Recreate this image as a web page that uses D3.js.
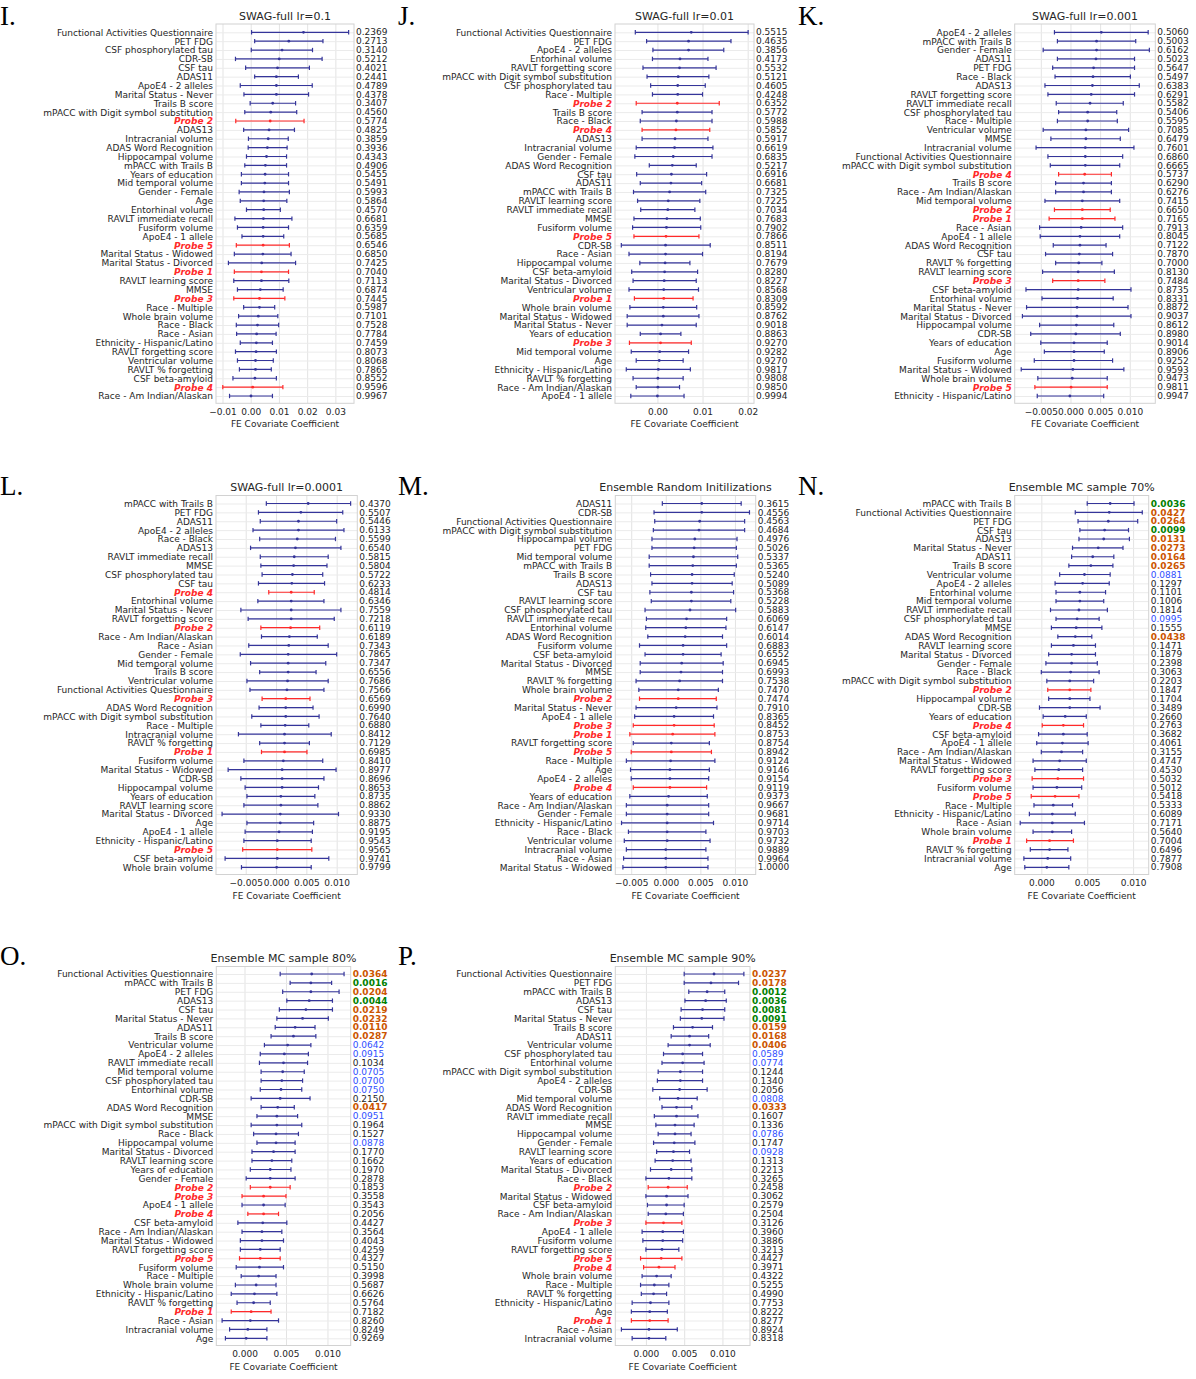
<!DOCTYPE html>
<html lang="en">

<head>
  <meta charset="UTF-8">
  <title>FE covariate coefficients</title>
  <script src="https://d3js.org/d3.v7.min.js"></script>
  <style>
    body {
      margin: 0;
      background: #fff;
    }

    text {
      font-family: "DejaVu Sans", sans-serif;
    }
  </style>
</head>

<body>
  <div class="chartContainer"></div>

  <script>
    // ---- data: one set of arrays per panel (label, mean, CI low, CI high, p-value) ----
    const labelsI = ["Functional Activities Questionnaire", "PET FDG", "CSF phosphorylated tau", "CDR-SB", "CSF tau", "ADAS11", "ApoE4 - 2 alleles", "Marital Status - Never", "Trails B score", "mPACC with Digit symbol substitution", "Probe 2", "ADAS13", "Intracranial volume", "ADAS Word Recognition", "Hippocampal volume", "mPACC with Trails B", "Years of education", "Mid temporal volume", "Gender - Female", "Age", "Entorhinal volume", "RAVLT immediate recall", "Fusiform volume", "ApoE4 - 1 allele", "Probe 5", "Marital Status - Widowed", "Marital Status - Divorced", "Probe 1", "RAVLT learning score", "MMSE", "Probe 3", "Race - Multiple", "Whole brain volume", "Race - Black", "Race - Asian", "Ethnicity - Hispanic/Latino", "RAVLT forgetting score", "Ventricular volume", "RAVLT % forgetting", "CSF beta-amyloid", "Probe 4", "Race - Am Indian/Alaskan"]
    const meanI = [0.0187, 0.0135, 0.0111, 0.0101, 0.0095, 0.0091, 0.0091, 0.0091, 0.0078, 0.0071, 0.0069, 0.0065, 0.0062, 0.0059, 0.0056, 0.0052, 0.0051, 0.0050, 0.0047, 0.0046, 0.0046, 0.0045, 0.0044, 0.0044, 0.0044, 0.0043, 0.0039, 0.0038, 0.0038, 0.0034, 0.0031, 0.0031, 0.0027, 0.0024, 0.0021, 0.0020, 0.0019, 0.0017, 0.0017, 0.0015, 0.0007, 0.0001]
    const loI = [0.0003, 0.0014, 0.0002, -0.0054, -0.0018, 0.0014, -0.0037, -0.0024, -0.0002, -0.0021, -0.0053, -0.0025, -0.0008, -0.0009, -0.0015, -0.0021, -0.0033, -0.0033, -0.0041, -0.0037, -0.0015, -0.0056, -0.0047, -0.0031, -0.0051, -0.0058, -0.0079, -0.0058, -0.0060, -0.0047, -0.0060, -0.0025, -0.0043, -0.0051, -0.0050, -0.0037, -0.0054, -0.0047, -0.0040, -0.0063, -0.0099, -0.0075]
    const hiI = [0.0347, 0.0256, 0.0219, 0.0253, 0.0208, 0.0169, 0.0218, 0.0205, 0.0159, 0.0163, 0.0189, 0.0155, 0.0133, 0.0129, 0.0127, 0.0127, 0.0134, 0.0134, 0.0137, 0.0128, 0.0105, 0.0146, 0.0134, 0.0117, 0.0137, 0.0143, 0.0159, 0.0134, 0.0135, 0.0115, 0.0121, 0.0085, 0.0096, 0.0099, 0.0090, 0.0077, 0.0091, 0.0080, 0.0073, 0.0091, 0.0114, 0.0077]
    const pI = [0.2369, 0.2713, 0.3140, 0.5212, 0.4021, 0.2441, 0.4789, 0.4378, 0.3407, 0.4560, 0.5774, 0.4825, 0.3859, 0.3936, 0.4343, 0.4906, 0.5455, 0.5491, 0.5993, 0.5864, 0.4570, 0.6681, 0.6359, 0.5685, 0.6546, 0.6850, 0.7425, 0.7040, 0.7113, 0.6874, 0.7445, 0.5987, 0.7101, 0.7528, 0.7784, 0.7459, 0.8073, 0.8068, 0.7865, 0.8552, 0.9596, 0.9967]

    const labelsJ = ["Functional Activities Questionnaire", "PET FDG", "ApoE4 - 2 alleles", "Entorhinal volume", "RAVLT forgetting score", "mPACC with Digit symbol substitution", "CSF phosphorylated tau", "Race - Multiple", "Probe 2", "Trails B score", "Race - Black", "Probe 4", "ADAS13", "Intracranial volume", "Gender - Female", "ADAS Word Recognition", "CSF tau", "ADAS11", "mPACC with Trails B", "RAVLT learning score", "RAVLT immediate recall", "MMSE", "Fusiform volume", "Probe 5", "CDR-SB", "Race - Asian", "Hippocampal volume", "CSF beta-amyloid", "Marital Status - Divorced", "Ventricular volume", "Probe 1", "Whole brain volume", "Marital Status - Widowed", "Marital Status - Never", "Years of education", "Probe 3", "Mid temporal volume", "Age", "Ethnicity - Hispanic/Latino", "RAVLT % forgetting", "Race - Am Indian/Alaskan", "ApoE4 - 1 allele"]
    const meanJ = [0.0075, 0.0069, 0.0069, 0.0050, 0.0049, 0.0046, 0.0045, 0.0045, 0.0044, 0.0044, 0.0042, 0.0041, 0.0039, 0.0038, 0.0035, 0.0033, 0.0031, 0.0030, 0.0027, 0.0024, 0.0023, 0.0021, 0.0020, 0.0019, 0.0018, 0.0018, 0.0017, 0.0016, 0.0015, 0.0014, 0.0014, 0.0013, 0.0013, 0.0010, 0.0007, 0.0007, 0.0005, 0.0004, 0.0002, 0.0001, 0.0001, 0.0000]
    const loJ = [-0.0049, -0.0024, -0.0010, -0.0011, -0.0032, -0.0023, -0.0015, -0.0011, -0.0047, -0.0034, -0.0038, -0.0034, -0.0034, -0.0047, -0.0050, -0.0018, -0.0046, -0.0038, -0.0053, -0.0044, -0.0037, -0.0052, -0.0055, -0.0052, -0.0080, -0.0063, -0.0039, -0.0057, -0.0054, -0.0063, -0.0051, -0.0061, -0.0067, -0.0067, -0.0038, -0.0062, -0.0058, -0.0047, -0.0069, -0.0054, -0.0047, -0.0059]
    const hiJ = [0.0201, 0.0163, 0.0147, 0.0112, 0.0130, 0.0114, 0.0106, 0.0100, 0.0137, 0.0121, 0.0121, 0.0116, 0.0112, 0.0123, 0.0121, 0.0086, 0.0109, 0.0098, 0.0107, 0.0094, 0.0083, 0.0095, 0.0096, 0.0092, 0.0117, 0.0100, 0.0072, 0.0089, 0.0086, 0.0091, 0.0079, 0.0087, 0.0092, 0.0086, 0.0052, 0.0075, 0.0069, 0.0057, 0.0073, 0.0057, 0.0049, 0.0059]
    const pJ = [0.5515, 0.4635, 0.3856, 0.4173, 0.5532, 0.5121, 0.4605, 0.4248, 0.6352, 0.5772, 0.5988, 0.5852, 0.5917, 0.6619, 0.6835, 0.5217, 0.6916, 0.6681, 0.7325, 0.7225, 0.7034, 0.7683, 0.7902, 0.7866, 0.8511, 0.8194, 0.7679, 0.8280, 0.8227, 0.8568, 0.8309, 0.8592, 0.8762, 0.9018, 0.8863, 0.9270, 0.9282, 0.9270, 0.9817, 0.9808, 0.9850, 0.9994]

    const labelsK = ["ApoE4 - 2 alleles", "mPACC with Trails B", "Gender - Female", "ADAS11", "PET FDG", "Race - Black", "ADAS13", "RAVLT forgetting score", "RAVLT immediate recall", "CSF phosphorylated tau", "Race - Multiple", "Ventricular volume", "MMSE", "Intracranial volume", "Functional Activities Questionnaire", "mPACC with Digit symbol substitution", "Probe 4", "Trails B score", "Race - Am Indian/Alaskan", "Mid temporal volume", "Probe 2", "Probe 1", "Race - Asian", "ApoE4 - 1 allele", "ADAS Word Recognition", "CSF tau", "RAVLT % forgetting", "RAVLT learning score", "Probe 3", "CSF beta-amyloid", "Entorhinal volume", "Marital Status - Never", "Marital Status - Divorced", "Hippocampal volume", "CDR-SB", "Years of education", "Age", "Fusiform volume", "Marital Status - Widowed", "Whole brain volume", "Probe 5", "Ethnicity - Hispanic/Latino"]
    const meanK = [0.0052, 0.0044, 0.0044, 0.0043, 0.0039, 0.0038, 0.0037, 0.0035, 0.0033, 0.0029, 0.0029, 0.0026, 0.0026, 0.0025, 0.0025, 0.0025, 0.0024, 0.0022, 0.0022, 0.0020, 0.0020, 0.0020, 0.0018, 0.0016, 0.0016, 0.0015, 0.0014, 0.0013, 0.0013, 0.0013, 0.0012, 0.0011, 0.0011, 0.0010, 0.0009, 0.0006, 0.0006, 0.0006, 0.0004, 0.0003, 0.0001, -0.0001]
    const loK = [-0.0027, -0.0022, -0.0046, -0.0022, -0.0030, -0.0026, -0.0043, -0.0038, -0.0024, -0.0020, -0.0022, -0.0046, -0.0033, -0.0058, -0.0038, -0.0034, -0.0020, -0.0025, -0.0025, -0.0043, -0.0027, -0.0036, -0.0052, -0.0051, -0.0029, -0.0042, -0.0025, -0.0047, -0.0030, -0.0075, -0.0048, -0.0074, -0.0081, -0.0052, -0.0067, -0.0050, -0.0044, -0.0061, -0.0083, -0.0055, -0.0060, -0.0056]
    const hiK = [0.0131, 0.0110, 0.0133, 0.0108, 0.0108, 0.0101, 0.0116, 0.0108, 0.0089, 0.0078, 0.0079, 0.0098, 0.0084, 0.0107, 0.0088, 0.0083, 0.0069, 0.0069, 0.0069, 0.0083, 0.0067, 0.0075, 0.0088, 0.0083, 0.0060, 0.0071, 0.0053, 0.0074, 0.0058, 0.0102, 0.0072, 0.0097, 0.0102, 0.0073, 0.0084, 0.0062, 0.0057, 0.0071, 0.0090, 0.0062, 0.0062, 0.0056]
    const pK = [0.5060, 0.5003, 0.6162, 0.5023, 0.5647, 0.5497, 0.6383, 0.6291, 0.5582, 0.5406, 0.5595, 0.7085, 0.6479, 0.7601, 0.6860, 0.6665, 0.5737, 0.6290, 0.6276, 0.7415, 0.6650, 0.7165, 0.7913, 0.8045, 0.7122, 0.7870, 0.7000, 0.8130, 0.7484, 0.8735, 0.8331, 0.8872, 0.9037, 0.8612, 0.8980, 0.9014, 0.8906, 0.9252, 0.9593, 0.9473, 0.9811, 0.9947]

    const labelsL = ["mPACC with Trails B", "PET FDG", "ADAS11", "ApoE4 - 2 alleles", "Race - Black", "ADAS13", "RAVLT immediate recall", "MMSE", "CSF phosphorylated tau", "CSF tau", "Probe 4", "Entorhinal volume", "Marital Status - Never", "RAVLT forgetting score", "Probe 2", "Race - Am Indian/Alaskan", "Race - Asian", "Gender - Female", "Mid temporal volume", "Trails B score", "Ventricular volume", "Functional Activities Questionnaire", "Probe 3", "ADAS Word Recognition", "mPACC with Digit symbol substitution", "Race - Multiple", "Intracranial volume", "RAVLT % forgetting", "Probe 1", "Fusiform volume", "Marital Status - Widowed", "CDR-SB", "Hippocampal volume", "Years of education", "RAVLT learning score", "Marital Status - Divorced", "Age", "ApoE4 - 1 allele", "Ethnicity - Hispanic/Latino", "Probe 5", "CSF beta-amyloid", "Whole brain volume"]
    const meanL = [0.0053, 0.0041, 0.0037, 0.0037, 0.0035, 0.0032, 0.0030, 0.0029, 0.0027, 0.0026, 0.0025, 0.0025, 0.0025, 0.0025, 0.0024, 0.0022, 0.0021, 0.0020, 0.0020, 0.0020, 0.0019, 0.0018, 0.0016, 0.0016, 0.0016, 0.0015, 0.0014, 0.0014, 0.0014, 0.0012, 0.0010, 0.0010, 0.0010, 0.0008, 0.0008, 0.0007, 0.0007, 0.0005, 0.0002, 0.0002, 0.0002, 0.0001]
    const loL = [-0.0016, -0.0029, -0.0026, -0.0038, -0.0027, -0.0042, -0.0026, -0.0025, -0.0023, -0.0029, -0.0012, -0.0030, -0.0058, -0.0046, -0.0025, -0.0024, -0.0045, -0.0059, -0.0042, -0.0027, -0.0048, -0.0043, -0.0023, -0.0028, -0.0040, -0.0025, -0.0062, -0.0027, -0.0024, -0.0053, -0.0079, -0.0058, -0.0051, -0.0048, -0.0053, -0.0089, -0.0048, -0.0051, -0.0053, -0.0055, -0.0084, -0.0057]
    const hiL = [0.0123, 0.0110, 0.0100, 0.0112, 0.0098, 0.0107, 0.0086, 0.0084, 0.0077, 0.0080, 0.0063, 0.0079, 0.0107, 0.0096, 0.0072, 0.0068, 0.0086, 0.0100, 0.0082, 0.0066, 0.0086, 0.0079, 0.0056, 0.0061, 0.0071, 0.0054, 0.0091, 0.0055, 0.0051, 0.0077, 0.0099, 0.0079, 0.0070, 0.0064, 0.0069, 0.0103, 0.0062, 0.0060, 0.0058, 0.0059, 0.0087, 0.0058]
    const pL = [0.4370, 0.5507, 0.5446, 0.6133, 0.5599, 0.6540, 0.5815, 0.5804, 0.5722, 0.6233, 0.4814, 0.6346, 0.7559, 0.7218, 0.6119, 0.6189, 0.7343, 0.7865, 0.7347, 0.6556, 0.7686, 0.7566, 0.6569, 0.6990, 0.7640, 0.6880, 0.8412, 0.7129, 0.6985, 0.8410, 0.8977, 0.8696, 0.8653, 0.8735, 0.8862, 0.9330, 0.8875, 0.9195, 0.9543, 0.9565, 0.9741, 0.9799]

    const labelsM = ["ADAS11", "CDR-SB", "Functional Activities Questionnaire", "mPACC with Digit symbol substitution", "Hippocampal volume", "PET FDG", "Mid temporal volume", "mPACC with Trails B", "Trails B score", "ADAS13", "CSF tau", "RAVLT learning score", "CSF phosphorylated tau", "RAVLT immediate recall", "Entorhinal volume", "ADAS Word Recognition", "Fusiform volume", "CSF beta-amyloid", "Marital Status - Divorced", "MMSE", "RAVLT % forgetting", "Whole brain volume", "Probe 2", "Marital Status - Never", "ApoE4 - 1 allele", "Probe 3", "Probe 1", "RAVLT forgetting score", "Probe 5", "Race - Multiple", "Age", "ApoE4 - 2 alleles", "Probe 4", "Years of education", "Race - Am Indian/Alaskan", "Gender - Female", "Ethnicity - Hispanic/Latino", "Race - Black", "Ventricular volume", "Intracranial volume", "Race - Asian", "Marital Status - Widowed"]
    const meanM = [0.0052, 0.0052, 0.0049, 0.0048, 0.0042, 0.0041, 0.0040, 0.0039, 0.0038, 0.0038, 0.0037, 0.0037, 0.0035, 0.0030, 0.0029, 0.0028, 0.0025, 0.0025, 0.0023, 0.0022, 0.0020, 0.0018, 0.0018, 0.0015, 0.0012, 0.0012, 0.0010, 0.0008, 0.0008, 0.0007, 0.0006, 0.0006, 0.0006, 0.0004, 0.0002, 0.0002, 0.0002, 0.0002, 0.0002, 0.0000, 0.0000, 0.0000]
    const loM = [-0.0005, -0.0017, -0.0016, -0.0018, -0.0020, -0.0020, -0.0024, -0.0024, -0.0022, -0.0020, -0.0023, -0.0021, -0.0030, -0.0028, -0.0029, -0.0026, -0.0038, -0.0030, -0.0037, -0.0037, -0.0043, -0.0039, -0.0038, -0.0043, -0.0045, -0.0047, -0.0052, -0.0047, -0.0050, -0.0057, -0.0051, -0.0050, -0.0047, -0.0052, -0.0057, -0.0057, -0.0064, -0.0054, -0.0060, -0.0057, -0.0061, -0.0062]
    const hiM = [0.0109, 0.0121, 0.0114, 0.0114, 0.0103, 0.0102, 0.0104, 0.0102, 0.0099, 0.0096, 0.0098, 0.0094, 0.0101, 0.0088, 0.0087, 0.0082, 0.0088, 0.0080, 0.0083, 0.0082, 0.0082, 0.0076, 0.0073, 0.0074, 0.0069, 0.0070, 0.0071, 0.0063, 0.0066, 0.0071, 0.0063, 0.0062, 0.0059, 0.0060, 0.0062, 0.0062, 0.0069, 0.0058, 0.0064, 0.0058, 0.0061, 0.0061]
    const pM = [0.3615, 0.4556, 0.4563, 0.4684, 0.4976, 0.5026, 0.5337, 0.5365, 0.5240, 0.5089, 0.5368, 0.5228, 0.5883, 0.6069, 0.6147, 0.6014, 0.6883, 0.6552, 0.6945, 0.6993, 0.7538, 0.7470, 0.7474, 0.7910, 0.8365, 0.8452, 0.8753, 0.8754, 0.8942, 0.9124, 0.9146, 0.9154, 0.9119, 0.9373, 0.9667, 0.9681, 0.9714, 0.9703, 0.9732, 0.9889, 0.9964, 1.0000]

    const labelsN = ["mPACC with Trails B", "Functional Activities Questionnaire", "PET FDG", "CSF tau", "ADAS13", "Marital Status - Never", "ADAS11", "Trails B score", "Ventricular volume", "ApoE4 - 2 alleles", "Entorhinal volume", "Mid temporal volume", "RAVLT immediate recall", "CSF phosphorylated tau", "MMSE", "ADAS Word Recognition", "RAVLT learning score", "Marital Status - Divorced", "Gender - Female", "Race - Black", "mPACC with Digit symbol substitution", "Probe 2", "Hippocampal volume", "CDR-SB", "Years of education", "Probe 4", "CSF beta-amyloid", "ApoE4 - 1 allele", "Race - Am Indian/Alaskan", "Marital Status - Widowed", "RAVLT forgetting score", "Probe 3", "Fusiform volume", "Probe 5", "Race - Multiple", "Ethnicity - Hispanic/Latino", "Race - Asian", "Whole brain volume", "Probe 1", "RAVLT % forgetting", "Intracranial volume", "Age"]
    const meanN = [0.0075, 0.0074, 0.0073, 0.0069, 0.0068, 0.0062, 0.0056, 0.0054, 0.0047, 0.0045, 0.0042, 0.0042, 0.0041, 0.0039, 0.0038, 0.0037, 0.0035, 0.0033, 0.0033, 0.0032, 0.0031, 0.0031, 0.0031, 0.0031, 0.0026, 0.0024, 0.0024, 0.0023, 0.0022, 0.0020, 0.0019, 0.0018, 0.0017, 0.0015, 0.0013, 0.0012, 0.0012, 0.0012, 0.0009, 0.0009, 0.0007, 0.0006]
    const loN = [0.0050, 0.0037, 0.0040, 0.0042, 0.0041, 0.0034, 0.0033, 0.0030, 0.0020, 0.0015, 0.0016, 0.0016, 0.0010, 0.0016, 0.0011, 0.0018, 0.0011, 0.0008, 0.0005, 0.0000, 0.0006, 0.0007, 0.0008, -0.0002, 0.0002, 0.0001, -0.0003, -0.0005, 0.0000, -0.0009, -0.0007, -0.0010, -0.0009, -0.0011, -0.0008, -0.0013, -0.0023, -0.0009, -0.0016, -0.0012, -0.0019, -0.0018]
    const hiN = [0.0101, 0.0110, 0.0105, 0.0095, 0.0096, 0.0089, 0.0079, 0.0078, 0.0075, 0.0074, 0.0070, 0.0068, 0.0072, 0.0063, 0.0066, 0.0055, 0.0059, 0.0059, 0.0061, 0.0063, 0.0057, 0.0054, 0.0053, 0.0064, 0.0049, 0.0046, 0.0050, 0.0051, 0.0045, 0.0049, 0.0045, 0.0046, 0.0044, 0.0041, 0.0034, 0.0037, 0.0047, 0.0033, 0.0035, 0.0029, 0.0032, 0.0030]
    const pN = [0.0036, 0.0427, 0.0264, 0.0099, 0.0131, 0.0273, 0.0164, 0.0265, 0.0881, 0.1297, 0.1101, 0.1006, 0.1814, 0.0995, 0.1555, 0.0438, 0.1471, 0.1879, 0.2398, 0.3063, 0.2203, 0.1847, 0.1704, 0.3489, 0.2660, 0.2763, 0.3682, 0.4061, 0.3155, 0.4747, 0.4530, 0.5032, 0.5012, 0.5418, 0.5333, 0.6089, 0.7171, 0.5640, 0.7004, 0.6496, 0.7877, 0.7908]

    const labelsO = ["Functional Activities Questionnaire", "mPACC with Trails B", "PET FDG", "ADAS13", "CSF tau", "Marital Status - Never", "ADAS11", "Trails B score", "Ventricular volume", "ApoE4 - 2 alleles", "RAVLT immediate recall", "Mid temporal volume", "CSF phosphorylated tau", "Entorhinal volume", "CDR-SB", "ADAS Word Recognition", "MMSE", "mPACC with Digit symbol substitution", "Race - Black", "Hippocampal volume", "Marital Status - Divorced", "RAVLT learning score", "Years of education", "Gender - Female", "Probe 2", "Probe 3", "ApoE4 - 1 allele", "Probe 4", "CSF beta-amyloid", "Race - Am Indian/Alaskan", "Marital Status - Widowed", "RAVLT forgetting score", "Probe 5", "Fusiform volume", "Race - Multiple", "Whole brain volume", "Ethnicity - Hispanic/Latino", "RAVLT % forgetting", "Probe 1", "Race - Asian", "Intracranial volume", "Age"]
    const meanO = [0.0081, 0.0080, 0.0080, 0.0078, 0.0074, 0.0070, 0.0061, 0.0059, 0.0052, 0.0048, 0.0047, 0.0046, 0.0045, 0.0044, 0.0043, 0.0040, 0.0039, 0.0039, 0.0038, 0.0038, 0.0035, 0.0033, 0.0031, 0.0031, 0.0031, 0.0023, 0.0023, 0.0023, 0.0022, 0.0021, 0.0021, 0.0019, 0.0019, 0.0018, 0.0017, 0.0014, 0.0012, 0.0011, 0.0008, 0.0007, 0.0004, 0.0002]
    const loO = [0.0043, 0.0055, 0.0046, 0.0051, 0.0042, 0.0039, 0.0037, 0.0032, 0.0024, 0.0019, 0.0018, 0.0020, 0.0020, 0.0019, 0.0008, 0.0020, 0.0015, 0.0008, 0.0011, 0.0015, 0.0009, 0.0009, 0.0007, 0.0002, 0.0007, -0.0003, -0.0003, 0.0004, -0.0008, -0.0003, -0.0005, -0.0005, -0.0006, -0.0010, -0.0004, -0.0011, -0.0016, -0.0009, -0.0016, -0.0027, -0.0018, -0.0023]
    const hiO = [0.0120, 0.0105, 0.0114, 0.0106, 0.0106, 0.0101, 0.0085, 0.0086, 0.0080, 0.0077, 0.0076, 0.0072, 0.0070, 0.0069, 0.0079, 0.0060, 0.0064, 0.0069, 0.0065, 0.0061, 0.0061, 0.0057, 0.0056, 0.0061, 0.0055, 0.0050, 0.0049, 0.0041, 0.0051, 0.0045, 0.0047, 0.0043, 0.0043, 0.0047, 0.0038, 0.0038, 0.0039, 0.0031, 0.0032, 0.0041, 0.0027, 0.0027]
    const pO = [0.0364, 0.0016, 0.0204, 0.0044, 0.0219, 0.0232, 0.0110, 0.0287, 0.0642, 0.0915, 0.1034, 0.0705, 0.0700, 0.0750, 0.2150, 0.0417, 0.0951, 0.1964, 0.1527, 0.0878, 0.1770, 0.1662, 0.1970, 0.2878, 0.1853, 0.3558, 0.3543, 0.2056, 0.4427, 0.3564, 0.4043, 0.4259, 0.4327, 0.5150, 0.3998, 0.5687, 0.6626, 0.5764, 0.7182, 0.8260, 0.8249, 0.9269]

    const labelsP = ["Functional Activities Questionnaire", "PET FDG", "mPACC with Trails B", "ADAS13", "CSF tau", "Marital Status - Never", "Trails B score", "ADAS11", "Ventricular volume", "CSF phosphorylated tau", "Entorhinal volume", "mPACC with Digit symbol substitution", "ApoE4 - 2 alleles", "CDR-SB", "Mid temporal volume", "ADAS Word Recognition", "RAVLT immediate recall", "MMSE", "Hippocampal volume", "Gender - Female", "RAVLT learning score", "Years of education", "Marital Status - Divorced", "Race - Black", "Probe 2", "Marital Status - Widowed", "CSF beta-amyloid", "Race - Am Indian/Alaskan", "Probe 3", "ApoE4 - 1 allele", "Fusiform volume", "RAVLT forgetting score", "Probe 5", "Probe 4", "Whole brain volume", "Race - Multiple", "RAVLT % forgetting", "Ethnicity - Hispanic/Latino", "Age", "Probe 1", "Race - Asian", "Intracranial volume"]
    const meanP = [0.0089, 0.0085, 0.0080, 0.0078, 0.0074, 0.0073, 0.0061, 0.0057, 0.0057, 0.0048, 0.0048, 0.0045, 0.0045, 0.0044, 0.0042, 0.0040, 0.0040, 0.0038, 0.0038, 0.0037, 0.0036, 0.0035, 0.0033, 0.0030, 0.0029, 0.0027, 0.0027, 0.0026, 0.0023, 0.0022, 0.0022, 0.0021, 0.0020, 0.0017, 0.0014, 0.0011, 0.0010, 0.0006, 0.0005, 0.0005, 0.0004, 0.0004]
    const loP = [0.0050, 0.0050, 0.0056, 0.0051, 0.0046, 0.0045, 0.0036, 0.0033, 0.0029, 0.0023, 0.0021, 0.0016, 0.0015, 0.0009, 0.0018, 0.0021, 0.0011, 0.0013, 0.0016, 0.0010, 0.0014, 0.0012, 0.0006, 0.0000, 0.0003, 0.0000, 0.0002, 0.0003, 0.0000, -0.0005, -0.0004, 0.0000, -0.0007, -0.0003, -0.0005, -0.0007, -0.0006, -0.0018, -0.0019, -0.0019, -0.0032, -0.0018]
    const hiP = [0.0128, 0.0121, 0.0103, 0.0105, 0.0103, 0.0102, 0.0087, 0.0082, 0.0084, 0.0074, 0.0076, 0.0074, 0.0074, 0.0080, 0.0067, 0.0060, 0.0068, 0.0063, 0.0059, 0.0064, 0.0057, 0.0059, 0.0060, 0.0060, 0.0054, 0.0055, 0.0050, 0.0049, 0.0047, 0.0049, 0.0048, 0.0043, 0.0047, 0.0038, 0.0033, 0.0030, 0.0027, 0.0030, 0.0028, 0.0029, 0.0041, 0.0026]
    const pP = [0.0237, 0.0178, 0.0012, 0.0036, 0.0081, 0.0091, 0.0159, 0.0168, 0.0406, 0.0589, 0.0774, 0.1244, 0.1340, 0.2056, 0.0808, 0.0333, 0.1607, 0.1336, 0.0786, 0.1747, 0.0928, 0.1313, 0.2213, 0.3265, 0.2458, 0.3062, 0.2579, 0.2504, 0.3126, 0.3960, 0.3886, 0.3213, 0.4427, 0.3971, 0.4322, 0.5255, 0.4990, 0.7753, 0.8222, 0.8277, 0.8924, 0.8318]

    const titles = ["SWAG-full lr=0.1", "SWAG-full lr=0.01", "SWAG-full lr=0.001", "SWAG-full lr=0.0001",
      "Ensemble Random Initilizations", "Ensemble MC sample 70%", "Ensemble MC sample 80%", "Ensemble MC sample 90%"]
    const panelLetters = ["I.", "J.", "K.", "L.", "M.", "N.", "O.", "P."]
    const xTicks = [
      [-0.01, 0, 0.01, 0.02, 0.03],
      [0, 0.01, 0.02],
      [-0.005, 0, 0.005, 0.01],
      [-0.005, 0, 0.005, 0.01],
      [-0.005, 0, 0.005, 0.01],
      [0, 0.005, 0.01],
      [0, 0.005, 0.01],
      [0, 0.005, 0.01]
    ]

    // ---- layout (pixels) ----
    const bands = [
      { top: 24, first: 32.3, last: 396, bottom: 403.3, letterY: 25 },
      { top: 495.5, first: 503.5, last: 867.3, bottom: 874.5, letterY: 495 },
      { top: 966.5, first: 974, last: 1338.3, bottom: 1345.5, letterY: 965 }
    ]
    const layout = [
      { band: 0, left: 216, right: 354, domain: [-0.0123, 0.0366], fmt: '.2f', letterX: 0 },
      { band: 0, left: 615, right: 754, domain: [-0.0094, 0.0214], fmt: '.2f', letterX: 398 },
      { band: 0, left: 1014.7, right: 1155.3, domain: [-0.0094, 0.0143], fmt: '.3f', letterX: 798 },
      { band: 1, left: 216, right: 357.3, domain: [-0.0099, 0.0134], fmt: '.3f', letterX: 0 },
      { band: 1, left: 615.3, right: 755.7, domain: [-0.0073, 0.0130], fmt: '.3f', letterX: 398 },
      { band: 1, left: 1014.7, right: 1148.7, domain: [-0.0029, 0.0117], fmt: '.3f', letterX: 798 },
      { band: 2, left: 216.3, right: 350.7, domain: [-0.0034, 0.0128], fmt: '.3f', letterX: 0 },
      { band: 2, left: 615.3, right: 750, domain: [-0.0040, 0.0136], fmt: '.3f', letterX: 398 }
    ]

    const series = [
      [labelsI, meanI, loI, hiI, pI],
      [labelsJ, meanJ, loJ, hiJ, pJ],
      [labelsK, meanK, loK, hiK, pK],
      [labelsL, meanL, loL, hiL, pL],
      [labelsM, meanM, loM, hiM, pM],
      [labelsN, meanN, loN, hiN, pN],
      [labelsO, meanO, loO, hiO, pO],
      [labelsP, meanP, loP, hiP, pP]
    ]

    const textColor = '#262626'
    const barColor = '#35359a'
    const probeColor = '#ff2a2a'

    // p-value colour: <0.01 green, <0.05 orange, <0.1 blue
    function pColor(p) {
      if (p < 0.01) return '#008000'
      if (p < 0.05) return '#cc5500'
      if (p < 0.1) return '#2f4fff'
      return textColor
    }

    const svg = d3.select('.chartContainer')
      .append('svg')
      .attr('width', 1196)
      .attr('height', 1379)

    series.forEach(([labels, mean, lo, hi, pv], k) => {
      const L = layout[k]
      const B = bands[L.band]
      const rows = labels.map((name, i) => ({
        name, mean: mean[i], lo: lo[i], hi: hi[i], p: pv[i], probe: name.startsWith('Probe')
      }))

      const x = d3.scaleLinear().domain(L.domain).range([L.left, L.right])
      const y = d3.scalePoint().domain(d3.range(rows.length)).range([B.first, B.last])

      const g = svg.append('g')

      // vertical grid + tick labels
      const xAxis = g.append('g')
        .attr('transform', `translate(0,${B.bottom})`)
        .call(d3.axisBottom(x)
          .tickValues(xTicks[k])
          .tickFormat(d3.format(L.fmt))
          .tickSize(-(B.bottom - B.top))
          .tickPadding(5.3))
      xAxis.select('.domain').remove()
      xAxis.selectAll('line').attr('stroke', '#e3e3e3').attr('stroke-width', 1)
      xAxis.selectAll('text')
        .attr('fill', textColor)
        .style('font-family', '"DejaVu Sans"')
        .style('font-size', '9px')

      // horizontal grid + covariate labels
      const yAxis = g.append('g')
        .attr('transform', `translate(${L.left},0)`)
        .call(d3.axisLeft(y)
          .tickSize(-(L.right - L.left))
          .tickPadding(3)
          .tickFormat(i => rows[i].name))
      yAxis.select('.domain').remove()
      yAxis.selectAll('line').attr('stroke', '#ebebeb').attr('stroke-width', 1)
      yAxis.selectAll('text')
        .attr('fill', i => rows[i].probe ? probeColor : textColor)
        .style('font-weight', i => rows[i].probe ? 'bold' : 'normal')
        .style('font-style', i => rows[i].probe ? 'italic' : 'normal')
        .style('font-family', '"DejaVu Sans"')
        .style('font-size', '9px')

      // frame
      g.append('rect')
        .attr('x', L.left).attr('y', B.top)
        .attr('width', L.right - L.left).attr('height', B.bottom - B.top)
        .attr('fill', 'none').attr('stroke', '#d2d2d2').attr('stroke-width', 1)

      // error bars
      const bars = g.append('g').selectAll('g')
        .data(rows)
        .join('g')
        .attr('stroke', d => d.probe ? probeColor : barColor)
        .attr('stroke-width', 1.2)

      bars.append('line')
        .attr('x1', d => x(d.lo)).attr('x2', d => x(d.hi))
        .attr('y1', (d, i) => y(i)).attr('y2', (d, i) => y(i))
      bars.append('line')
        .attr('x1', d => x(d.lo)).attr('x2', d => x(d.lo))
        .attr('y1', (d, i) => y(i) - 2.2).attr('y2', (d, i) => y(i) + 2.2)
      bars.append('line')
        .attr('x1', d => x(d.hi)).attr('x2', d => x(d.hi))
        .attr('y1', (d, i) => y(i) - 2.2).attr('y2', (d, i) => y(i) + 2.2)
      bars.append('circle')
        .attr('cx', d => x(d.mean)).attr('cy', (d, i) => y(i))
        .attr('r', 1.4)
        .attr('stroke', 'none')
        .attr('fill', d => d.probe ? probeColor : barColor)

      // p-values
      g.append('g').selectAll('text')
        .data(rows)
        .join('text')
        .attr('x', L.right + 2)
        .attr('y', (d, i) => y(i))
        .attr('dy', '0.35em')
        .attr('fill', d => pColor(d.p))
        .style('font-weight', d => d.p < 0.05 ? 'bold' : 'normal')
        .style('font-size', '9px')
        .text(d => d.p.toFixed(4))

      // title, x label, panel letter
      g.append('text')
        .attr('x', (L.left + L.right) / 2)
        .attr('y', B.top - 4.5)
        .attr('text-anchor', 'middle')
        .attr('fill', textColor)
        .style('font-size', '11px')
        .text(titles[k])

      g.append('text')
        .attr('x', (L.left + L.right) / 2)
        .attr('y', B.bottom + 24)
        .attr('text-anchor', 'middle')
        .attr('fill', textColor)
        .style('font-size', '9px')
        .text('FE Covariate Coefficient')

      g.append('text')
        .attr('x', L.letterX)
        .attr('y', B.letterY)
        .attr('fill', '#000')
        .style('font-family', '"Liberation Serif", "DejaVu Serif", serif')
        .style('font-size', '27px')
        .text(panelLetters[k])
    })
  </script>
</body>

</html>
